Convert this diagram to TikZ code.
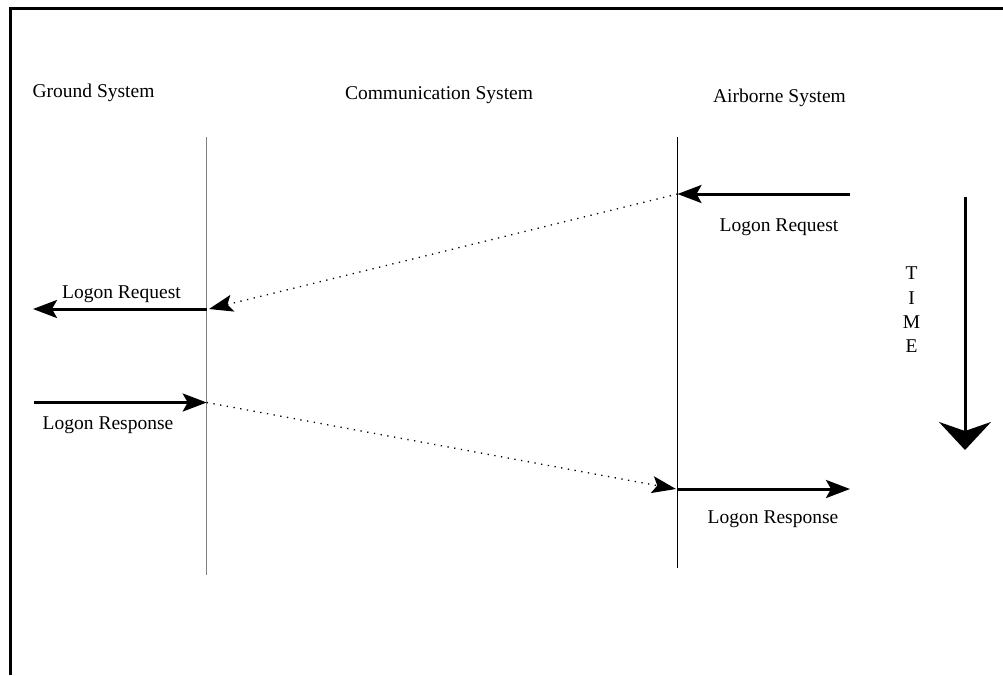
\documentclass[tikz,border=0pt]{standalone}
\usepackage{fontspec}
\setmainfont{Liberation Serif}
\usetikzlibrary{arrows.meta}
\begin{document}
\begin{tikzpicture}[x=1pt,y=-1pt,
  lbl/.style={font=\fontsize{19.5}{23}\selectfont, inner sep=0pt, anchor=base},
  msg/.style={line width=3pt, -{Stealth[length=24pt,width=18pt,inset=5pt]}},
  relay/.style={line width=1.3pt, dash pattern=on 1.3pt off 5.5pt, -{Stealth[length=24pt,width=17pt,inset=5pt]}},
  lifeline/.style={line width=1.5pt},
  frameline/.style={line width=3pt}]
\useasboundingbox (0,0) rectangle (1003,675);
% frame (top and left)
\coordinate (fTR) at (1003,8);
\coordinate (fTL) at (10,8);
\coordinate (fBL) at (10,675);
\draw[frameline] (fTR) -- (fTL) -- (fBL);
% titles
\node[lbl] (tg) at (93.5,97) {Ground System};
\node[lbl] (tc) at (439,99) {Communication System};
\node[lbl] (ta) at (779.5,102) {Airborne System};
% lifelines
\coordinate (gTop) at (206.7,137);
\coordinate (gBot) at (206.7,575);
\coordinate (aTop) at (677.5,137);
\coordinate (aBot) at (677.5,568);
\draw[lifeline, draw=black!50] (gTop) -- (gBot);
\draw[lifeline] (aTop) -- (aBot);
% message points
\coordinate (aReqS) at (850,194);
\coordinate (aReqE) at (677.5,194);
\coordinate (gReqS) at (206.7,309);
\coordinate (gReqE) at (33,309);
\coordinate (gResS) at (34,402.5);
\coordinate (gResE) at (206.7,402.5);
\coordinate (aResS) at (677.5,489);
\coordinate (aResE) at (850,489);
\coordinate (relay1E) at (209,309);
\coordinate (relay2E) at (676,489);
\draw[msg] (aReqS) -- (aReqE);
\draw[relay] (aReqE) -- (relay1E);
\draw[msg] (gReqS) -- (gReqE);
\draw[msg] (gResS) -- (gResE);
\draw[relay] (gResE) -- (relay2E);
\draw[msg] (aResS) -- (aResE);
% labels
\node[lbl] (l1) at (779,231) {Logon Request};
\node[lbl] (l2) at (121.5,298) {Logon Request};
\node[lbl] (l3) at (108,429) {Logon Response};
\node[lbl] (l4) at (773,523) {Logon Response};
% time arrow
\coordinate (tS) at (965,197);
\coordinate (tE) at (965,450);
\draw[line width=3pt, -{Stealth[length=28pt,width=52pt,inset=9pt]}] (tS) -- (tE);
\node[lbl] (tT) at (911.5,279) {T};
\node[lbl] (tI) at (911.5,304) {I};
\node[lbl] (tM) at (911.5,328) {M};
\node[lbl] (tEl) at (911.5,352) {E};
\end{tikzpicture}
\end{document}
